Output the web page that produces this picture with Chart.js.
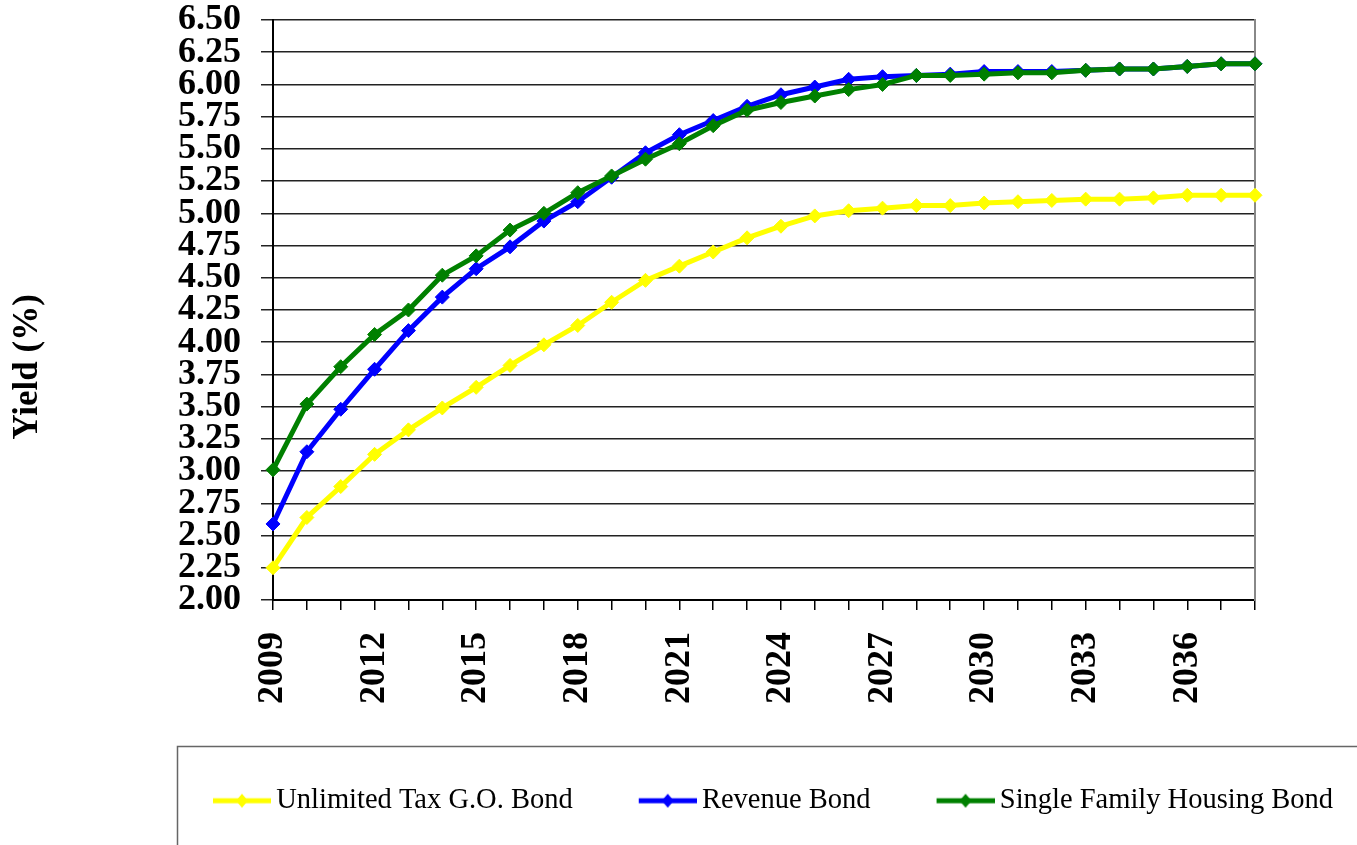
<!DOCTYPE html>
<html><head><meta charset="utf-8">
<script src="https://cdn.jsdelivr.net/npm/chart.js@4.4.1/dist/chart.umd.min.js"></script>
<style>html,body{margin:0;padding:0;background:#fff}#wrap{width:1357px;height:845px;position:relative}</style>
</head><body><div id="wrap"><canvas id="c"></canvas></div>
<script>
const years = ['2009','2010','2011','2012','2013','2014','2015','2016','2017','2018','2019','2020','2021','2022','2023','2024','2025','2026','2027','2028','2029','2030','2031','2032','2033','2034','2035','2036','2037','2038'];
const goBond = [2.25,2.64,2.88,3.13,3.32,3.49,3.65,3.82,3.98,4.13,4.31,4.48,4.59,4.70,4.81,4.90,4.98,5.02,5.04,5.06,5.06,5.08,5.09,5.10,5.11,5.11,5.12,5.14,5.14,5.14];
const revenueBond = [2.59,3.15,3.48,3.79,4.09,4.35,4.57,4.74,4.94,5.09,5.28,5.47,5.61,5.72,5.83,5.92,5.98,6.04,6.06,6.07,6.08,6.10,6.10,6.10,6.11,6.12,6.12,6.14,6.16,6.16];
const sfhBond = [3.01,3.52,3.81,4.06,4.25,4.52,4.67,4.87,5.00,5.16,5.29,5.42,5.54,5.68,5.80,5.86,5.91,5.96,6.00,6.07,6.07,6.08,6.09,6.09,6.11,6.12,6.12,6.14,6.16,6.16];
const seriesNames = ['Unlimited Tax G.O. Bond','Revenue Bond','Single Family Housing Bond'];
const seriesColors = ['#FFFF00','#0000FF','#008000'];
const yMin = 2.0, yMax = 6.5, yStep = 0.25;
const labelEvery = 3;
const yTitle = 'Yield (%)';

const FONT = "'Liberation Serif','Times New Roman',serif";

function legendSample(color){
  const c = document.createElement('canvas');
  c.width = 123; c.height = 20;
  const g = c.getContext('2d');
  g.strokeStyle = color; g.lineWidth = 5;
  g.beginPath(); g.moveTo(65,10); g.lineTo(123,10); g.stroke();
  g.fillStyle = color;
  g.beginPath(); g.moveTo(88,10); g.lineTo(94,3); g.lineTo(100,10); g.lineTo(94,17); g.closePath(); g.fill();
  return c;
}
const legendImgs = seriesColors.map(legendSample);

const allSeries = [goBond, revenueBond, sfhBond];
const drawOrder = [2,1,0];

const datasets = allSeries.map((d,i)=>({
  label: seriesNames[i],
  data: d,
  borderColor: seriesColors[i],
  backgroundColor: seriesColors[i],
  pointBackgroundColor: seriesColors[i],
  pointBorderColor: seriesColors[i],
  borderWidth: 5,
  pointStyle: 'rectRot',
  pointRadius: 7,
  pointBorderWidth: 1,
  tension: 0,
  order: drawOrder[i]
}));

const framePlugin = {
  id: 'framePlugin',
  afterLayout(chart){
    const lg = chart.legend;
    if (lg) { lg.left = 147; lg.right = 1357; lg.width = lg.right - lg.left; }
  },
  afterDraw(chart){
    const ctx = chart.ctx;
    ctx.save();
    ctx.strokeStyle = '#666';
    ctx.lineWidth = 1.5;
    ctx.strokeRect(177.5, 746.5, 1300, 200);
    ctx.restore();
  }
};

new Chart(document.getElementById('c'), {
  type: 'line',
  data: { labels: years, datasets },
  plugins: [framePlugin],
  options: {
    responsive: true,
    maintainAspectRatio: false,
    animation: false,
    layout: { padding: { left: 0, right: 94, top: 0, bottom: 20 } },
    plugins: {
      tooltip: { enabled: false },
      legend: {
        position: 'bottom',
        align: 'start',
        labels: {
          usePointStyle: true,
          pointStyleWidth: 105,
          padding: 10,
          color: '#000',
          font: { family: FONT, size: 28.5 },
          sort: (a,b) => a.datasetIndex - b.datasetIndex,
          generateLabels: (chart) => {
            const items = Chart.defaults.plugins.legend.labels.generateLabels(chart);
            items.forEach(it => { it.pointStyle = legendImgs[it.datasetIndex]; });
            return items;
          }
        }
      }
    },
    scales: {
      x: {
        offset: false,
        grid: { drawOnChartArea: false, drawTicks: true, tickLength: 10, color: '#000', lineWidth: 1.5 },
        border: { color: '#000', width: 2 },
        ticks: {
          autoSkip: false, maxRotation: 90, minRotation: 90, padding: 22,
          color: '#000', font: { family: FONT, size: 36, weight: 'bold' },
          callback: (v, idx) => idx % labelEvery === 0 ? years[idx] : ''
        },
        afterFit: (scale) => {
          const lg = scale.chart.legend;
          const lh = lg ? lg.height : 0;
          scale.height = scale.chart.height - 600 - lh - 20;
        }
      },
      y: {
        min: yMin, max: yMax,
        grid: { color: '#222', lineWidth: 1.5, tickLength: 12, drawTicks: true },
        border: { color: '#000', width: 2 },
        ticks: {
          stepSize: yStep, padding: 20, color: '#000', autoSkip: false,
          font: { family: FONT, size: 36, weight: 'bold', lineHeight: 0 },
          callback: (v) => Number(v).toFixed(2)
        },
        title: {
          display: true, text: yTitle + '             ', color: '#000',
          font: { family: FONT, size: 35, weight: 'bold' },
          padding: { top: 7, bottom: 0 }
        },
        afterFit: (scale) => { scale.width = 273; }
      },
      y2: {
        position: 'right', min: yMin, max: yMax,
        grid: { display: false },
        ticks: { display: false },
        border: { color: '#888', width: 2 }
      }
    }
  }
});
</script>
</body></html>
